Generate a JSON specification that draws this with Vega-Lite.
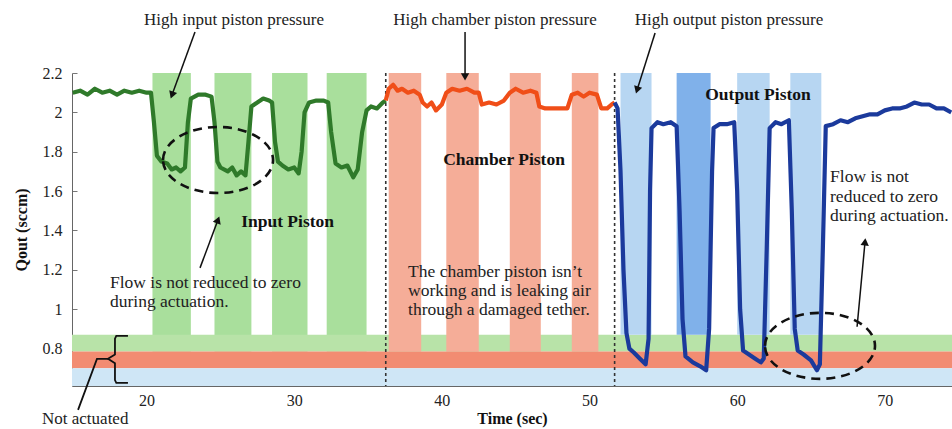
{
  "$schema": "https://vega.github.io/schema/vega-lite/v6.json",
  "width": 880,
  "height": 313,
  "autosize": {"type": "none"},
  "padding": {"left": 72, "top": 73, "right": 0, "bottom": 43},
  "background": "white",
  "config": {
    "view": {"stroke": null},
    "font": "Liberation Serif",
    "axis": {
      "grid": false,
      "domainColor": "#666666",
      "domainWidth": 1,
      "tickColor": "#777777",
      "tickSize": -5,
      "labelFont": "Liberation Serif",
      "labelFontSize": 16,
      "labelColor": "#222222",
      "titleFont": "Liberation Serif",
      "titleFontSize": 16,
      "titleFontWeight": "bold",
      "titleColor": "#111111"
    }
  },
  "datasets": {
    "series": [
      {"s": "input", "t": 15.0, "v": 2.10}, {"s": "input", "t": 15.5, "v": 2.11}, {"s": "input", "t": 16.0, "v": 2.09},
      {"s": "input", "t": 16.5, "v": 2.12}, {"s": "input", "t": 17.0, "v": 2.10}, {"s": "input", "t": 17.5, "v": 2.11},
      {"s": "input", "t": 18.0, "v": 2.09}, {"s": "input", "t": 18.5, "v": 2.11}, {"s": "input", "t": 19.0, "v": 2.10},
      {"s": "input", "t": 19.5, "v": 2.11}, {"s": "input", "t": 20.0, "v": 2.10}, {"s": "input", "t": 20.3, "v": 2.10},
      {"s": "input", "t": 20.5, "v": 1.95}, {"s": "input", "t": 20.7, "v": 1.78}, {"s": "input", "t": 21.0, "v": 1.75},
      {"s": "input", "t": 21.4, "v": 1.74}, {"s": "input", "t": 21.7, "v": 1.71}, {"s": "input", "t": 22.0, "v": 1.72},
      {"s": "input", "t": 22.3, "v": 1.70}, {"s": "input", "t": 22.6, "v": 1.72}, {"s": "input", "t": 22.8, "v": 1.95},
      {"s": "input", "t": 23.0, "v": 2.07}, {"s": "input", "t": 23.5, "v": 2.09}, {"s": "input", "t": 24.0, "v": 2.09},
      {"s": "input", "t": 24.4, "v": 2.08}, {"s": "input", "t": 24.6, "v": 1.95}, {"s": "input", "t": 24.8, "v": 1.75},
      {"s": "input", "t": 25.0, "v": 1.72}, {"s": "input", "t": 25.5, "v": 1.70}, {"s": "input", "t": 25.8, "v": 1.72},
      {"s": "input", "t": 26.1, "v": 1.68}, {"s": "input", "t": 26.4, "v": 1.70}, {"s": "input", "t": 26.7, "v": 1.68},
      {"s": "input", "t": 26.9, "v": 1.85}, {"s": "input", "t": 27.1, "v": 2.03}, {"s": "input", "t": 27.5, "v": 2.05},
      {"s": "input", "t": 27.9, "v": 2.07}, {"s": "input", "t": 28.3, "v": 2.06}, {"s": "input", "t": 28.5, "v": 2.05},
      {"s": "input", "t": 28.7, "v": 1.85}, {"s": "input", "t": 28.9, "v": 1.75}, {"s": "input", "t": 29.2, "v": 1.73},
      {"s": "input", "t": 29.6, "v": 1.71}, {"s": "input", "t": 30.0, "v": 1.72}, {"s": "input", "t": 30.3, "v": 1.69},
      {"s": "input", "t": 30.5, "v": 1.80}, {"s": "input", "t": 30.7, "v": 2.00}, {"s": "input", "t": 31.0, "v": 2.05},
      {"s": "input", "t": 31.5, "v": 2.06}, {"s": "input", "t": 32.0, "v": 2.06}, {"s": "input", "t": 32.3, "v": 2.05},
      {"s": "input", "t": 32.5, "v": 1.90}, {"s": "input", "t": 32.8, "v": 1.74}, {"s": "input", "t": 33.2, "v": 1.72},
      {"s": "input", "t": 33.6, "v": 1.73}, {"s": "input", "t": 34.0, "v": 1.67}, {"s": "input", "t": 34.3, "v": 1.71},
      {"s": "input", "t": 34.6, "v": 1.90}, {"s": "input", "t": 34.9, "v": 2.01}, {"s": "input", "t": 35.2, "v": 2.03},
      {"s": "input", "t": 35.6, "v": 2.02}, {"s": "input", "t": 36.0, "v": 2.05}, {"s": "input", "t": 36.2, "v": 2.06},
      {"s": "chamber", "t": 36.2, "v": 2.06}, {"s": "chamber", "t": 36.4, "v": 2.12}, {"s": "chamber", "t": 36.7, "v": 2.14},
      {"s": "chamber", "t": 37.0, "v": 2.11}, {"s": "chamber", "t": 37.3, "v": 2.12}, {"s": "chamber", "t": 37.7, "v": 2.10},
      {"s": "chamber", "t": 38.1, "v": 2.11}, {"s": "chamber", "t": 38.5, "v": 2.09}, {"s": "chamber", "t": 38.7, "v": 2.05},
      {"s": "chamber", "t": 39.0, "v": 2.03}, {"s": "chamber", "t": 39.3, "v": 2.05}, {"s": "chamber", "t": 39.6, "v": 2.01},
      {"s": "chamber", "t": 40.0, "v": 2.04}, {"s": "chamber", "t": 40.3, "v": 2.10}, {"s": "chamber", "t": 40.7, "v": 2.12},
      {"s": "chamber", "t": 41.2, "v": 2.11}, {"s": "chamber", "t": 41.7, "v": 2.12}, {"s": "chamber", "t": 42.2, "v": 2.10},
      {"s": "chamber", "t": 42.5, "v": 2.10}, {"s": "chamber", "t": 42.7, "v": 2.04}, {"s": "chamber", "t": 43.2, "v": 2.05},
      {"s": "chamber", "t": 43.7, "v": 2.04}, {"s": "chamber", "t": 44.2, "v": 2.06}, {"s": "chamber", "t": 44.6, "v": 2.10},
      {"s": "chamber", "t": 45.0, "v": 2.12}, {"s": "chamber", "t": 45.5, "v": 2.10}, {"s": "chamber", "t": 46.0, "v": 2.11},
      {"s": "chamber", "t": 46.4, "v": 2.10}, {"s": "chamber", "t": 46.6, "v": 2.03}, {"s": "chamber", "t": 47.0, "v": 2.02},
      {"s": "chamber", "t": 47.5, "v": 2.02}, {"s": "chamber", "t": 48.0, "v": 2.02}, {"s": "chamber", "t": 48.5, "v": 2.02},
      {"s": "chamber", "t": 48.8, "v": 2.09}, {"s": "chamber", "t": 49.2, "v": 2.10}, {"s": "chamber", "t": 49.6, "v": 2.08},
      {"s": "chamber", "t": 50.0, "v": 2.10}, {"s": "chamber", "t": 50.5, "v": 2.09}, {"s": "chamber", "t": 50.8, "v": 2.02},
      {"s": "chamber", "t": 51.2, "v": 2.02}, {"s": "chamber", "t": 51.5, "v": 2.04}, {"s": "chamber", "t": 51.7, "v": 2.05},
      {"s": "output", "t": 51.7, "v": 2.05}, {"s": "output", "t": 51.9, "v": 2.02}, {"s": "output", "t": 52.1, "v": 1.70},
      {"s": "output", "t": 52.3, "v": 1.20}, {"s": "output", "t": 52.5, "v": 0.88}, {"s": "output", "t": 52.7, "v": 0.80},
      {"s": "output", "t": 53.0, "v": 0.78}, {"s": "output", "t": 53.4, "v": 0.75}, {"s": "output", "t": 53.8, "v": 0.72},
      {"s": "output", "t": 54.0, "v": 0.85}, {"s": "output", "t": 54.1, "v": 1.60}, {"s": "output", "t": 54.2, "v": 1.92},
      {"s": "output", "t": 54.6, "v": 1.95}, {"s": "output", "t": 55.0, "v": 1.94}, {"s": "output", "t": 55.5, "v": 1.95},
      {"s": "output", "t": 55.9, "v": 1.93}, {"s": "output", "t": 56.1, "v": 1.50}, {"s": "output", "t": 56.3, "v": 0.95},
      {"s": "output", "t": 56.5, "v": 0.76}, {"s": "output", "t": 57.0, "v": 0.73}, {"s": "output", "t": 57.5, "v": 0.71},
      {"s": "output", "t": 57.9, "v": 0.69}, {"s": "output", "t": 58.1, "v": 0.90}, {"s": "output", "t": 58.3, "v": 1.70},
      {"s": "output", "t": 58.4, "v": 1.92}, {"s": "output", "t": 58.8, "v": 1.94}, {"s": "output", "t": 59.3, "v": 1.94},
      {"s": "output", "t": 59.8, "v": 1.95}, {"s": "output", "t": 60.0, "v": 1.60}, {"s": "output", "t": 60.2, "v": 1.00},
      {"s": "output", "t": 60.4, "v": 0.79}, {"s": "output", "t": 60.8, "v": 0.77}, {"s": "output", "t": 61.2, "v": 0.75},
      {"s": "output", "t": 61.6, "v": 0.73}, {"s": "output", "t": 61.8, "v": 0.75}, {"s": "output", "t": 62.0, "v": 1.30},
      {"s": "output", "t": 62.2, "v": 1.92}, {"s": "output", "t": 62.6, "v": 1.95}, {"s": "output", "t": 63.0, "v": 1.94},
      {"s": "output", "t": 63.5, "v": 1.96}, {"s": "output", "t": 63.7, "v": 1.50}, {"s": "output", "t": 63.9, "v": 0.90},
      {"s": "output", "t": 64.1, "v": 0.79}, {"s": "output", "t": 64.5, "v": 0.77}, {"s": "output", "t": 65.0, "v": 0.74},
      {"s": "output", "t": 65.4, "v": 0.69}, {"s": "output", "t": 65.6, "v": 0.72}, {"s": "output", "t": 65.8, "v": 1.30},
      {"s": "output", "t": 66.0, "v": 1.93}, {"s": "output", "t": 66.5, "v": 1.94}, {"s": "output", "t": 67.0, "v": 1.96},
      {"s": "output", "t": 67.5, "v": 1.95}, {"s": "output", "t": 68.0, "v": 1.97}, {"s": "output", "t": 68.5, "v": 1.98},
      {"s": "output", "t": 69.0, "v": 1.99}, {"s": "output", "t": 69.5, "v": 1.99}, {"s": "output", "t": 70.0, "v": 2.01},
      {"s": "output", "t": 70.5, "v": 2.02}, {"s": "output", "t": 71.0, "v": 2.02}, {"s": "output", "t": 71.5, "v": 2.03},
      {"s": "output", "t": 72.0, "v": 2.05}, {"s": "output", "t": 72.5, "v": 2.04}, {"s": "output", "t": 73.0, "v": 2.04},
      {"s": "output", "t": 73.5, "v": 2.02}, {"s": "output", "t": 74.0, "v": 2.02}, {"s": "output", "t": 74.5, "v": 2.00}
    ],
    "vbands": [
      {"k": "vin", "t1": 20.4, "t2": 23.0}, {"k": "vin", "t1": 24.6, "t2": 27.1},
      {"k": "vin", "t1": 28.5, "t2": 30.9}, {"k": "vin", "t1": 32.2, "t2": 34.9},
      {"k": "vch", "t1": 36.4, "t2": 38.6}, {"k": "vch", "t1": 40.3, "t2": 42.5},
      {"k": "vch", "t1": 44.6, "t2": 46.7}, {"k": "vch", "t1": 48.8, "t2": 50.6},
      {"k": "vout", "t1": 52.1, "t2": 54.2}, {"k": "vout2", "t1": 55.9, "t2": 58.2},
      {"k": "vout", "t1": 60.0, "t2": 62.2}, {"k": "vout", "t1": 63.6, "t2": 65.7}
    ],
    "hbands": [
      {"k": "hgreen", "v1": 0.785, "v2": 0.87},
      {"k": "hred", "v1": 0.70, "v2": 0.785},
      {"k": "hblue", "v1": 0.61, "v2": 0.70}
    ],
    "dividers": [{"t": 36.2}, {"t": 51.7}],
    "ellipses": [{"t": 24.84, "v": 1.758}, {"t": 65.61, "v": 0.814}],
    "arrows": [
      {"t1": 23.28, "v1": 2.408, "t2": 21.72, "v2": 2.088, "ang": 200},
      {"t1": 41.57, "v1": 2.408, "t2": 41.57, "v2": 2.18, "ang": 180},
      {"t1": 54.44, "v1": 2.403, "t2": 53.22, "v2": 2.114, "ang": 197.5},
      {"t1": 23.62, "v1": 1.21, "t2": 24.84, "v2": 1.454, "ang": 20.6},
      {"t1": 68.12, "v1": 0.911, "t2": 68.66, "v2": 1.342, "ang": 5.4}
    ],
    "brace": [
      {"p": "brace", "i": 1, "t": 18.74, "v": 0.865}, {"p": "brace", "i": 2, "t": 17.95, "v": 0.865},
      {"p": "brace", "i": 3, "t": 17.86, "v": 0.85}, {"p": "brace", "i": 4, "t": 17.86, "v": 0.77},
      {"p": "brace", "i": 5, "t": 17.39, "v": 0.748}, {"p": "brace", "i": 6, "t": 17.86, "v": 0.726},
      {"p": "brace", "i": 7, "t": 17.86, "v": 0.64}, {"p": "brace", "i": 8, "t": 17.95, "v": 0.626},
      {"p": "brace", "i": 9, "t": 18.74, "v": 0.626},
      {"p": "leader", "i": 1, "t": 15.36, "v": 0.489}, {"p": "leader", "i": 2, "t": 16.64, "v": 0.748},
      {"p": "leader", "i": 3, "t": 17.39, "v": 0.748}
    ],
    "texts": [
      {"r": "header", "t": 25.92, "v": 2.469, "label": "High input piston pressure"},
      {"r": "header", "t": 43.60, "v": 2.469, "label": "High chamber piston pressure"},
      {"r": "header", "t": 59.45, "v": 2.469, "label": "High output piston pressure"},
      {"r": "piston", "t": 61.41, "v": 2.088, "label": "Output Piston"},
      {"r": "piston", "t": 44.21, "v": 1.758, "label": "Chamber Piston"},
      {"r": "piston", "t": 29.55, "v": 1.444, "label": "Input Piston"},
      {"r": "note", "t": 17.52, "v": 1.134, "label": "Flow is not reduced to zero"},
      {"r": "note", "t": 17.52, "v": 1.038, "label": "during actuation."},
      {"r": "note", "t": 37.71, "v": 1.190, "label": "The chamber piston isn’t"},
      {"r": "note", "t": 37.71, "v": 1.093, "label": "working and is leaking air"},
      {"r": "note", "t": 37.71, "v": 0.997, "label": "through a damaged tether."},
      {"r": "note", "t": 66.29, "v": 1.672, "label": "Flow is not"},
      {"r": "note", "t": 66.29, "v": 1.571, "label": "reduced to zero"},
      {"r": "note", "t": 66.29, "v": 1.474, "label": "during actuation."},
      {"r": "foot", "t": 12.92, "v": 0.44, "label": "Not actuated"}
    ]
  },
  "layer": [
    {
      "data": {"name": "vbands"},
      "transform": [{"filter": "datum.k === 'vin'"}],
      "mark": {"type": "rect"},
      "encoding": {
        "x": {"field": "t1", "type": "quantitative", "scale": {"domain": [14.95, 74.55], "nice": false, "zero": false},
              "axis": {"values": [20, 30, 40, 50, 60, 70], "title": "Time (sec)", "labelPadding": 11, "titlePadding": 2}},
        "x2": {"field": "t2"},
        "y": {"datum": 0.785, "type": "quantitative", "scale": {"domain": [0.61, 2.2], "nice": false, "zero": false},
              "axis": {"values": [0.8, 1, 1.2, 1.4, 1.6, 1.8, 2, 2.2], "format": "~g", "title": "Qout (sccm)", "labelPadding": 15, "titlePadding": 13}},
        "y2": {"datum": 2.2},
        "color": {"field": "k", "type": "nominal", "legend": null,
                  "scale": {"domain": ["input", "chamber", "output", "vin", "vch", "vout", "vout2", "hgreen", "hred", "hblue"],
                            "range": ["#2f7a2a", "#f04e18", "#1b3a9c", "#a9df9c", "#f5ad98", "#b7d6f2", "#80b1ea", "#b8e3a8", "#f28c72", "#cfe6f6"]}}
      }
    },
    {
      "data": {"name": "hbands"},
      "transform": [{"filter": "datum.k === 'hgreen'"}],
      "mark": {"type": "rect"},
      "encoding": {
        "y": {"field": "v1", "type": "quantitative", "scale": {"domain": [0.61, 2.2], "nice": false, "zero": false}},
        "y2": {"field": "v2"},
        "color": {"field": "k", "type": "nominal", "legend": null}
      }
    },
    {
      "data": {"name": "vbands"},
      "transform": [{"filter": "datum.k === 'vch'"}],
      "mark": {"type": "rect"},
      "encoding": {
        "x": {"field": "t1", "type": "quantitative", "scale": {"domain": [14.95, 74.55], "nice": false, "zero": false}},
        "x2": {"field": "t2"},
        "y": {"datum": 0.785, "type": "quantitative", "scale": {"domain": [0.61, 2.2], "nice": false, "zero": false}},
        "y2": {"datum": 2.2},
        "color": {"field": "k", "type": "nominal", "legend": null}
      }
    },
    {
      "data": {"name": "vbands"},
      "transform": [{"filter": "datum.k === 'vout' || datum.k === 'vout2'"}],
      "mark": {"type": "rect"},
      "encoding": {
        "x": {"field": "t1", "type": "quantitative", "scale": {"domain": [14.95, 74.55], "nice": false, "zero": false}},
        "x2": {"field": "t2"},
        "y": {"datum": 0.87, "type": "quantitative", "scale": {"domain": [0.61, 2.2], "nice": false, "zero": false}},
        "y2": {"datum": 2.2},
        "color": {"field": "k", "type": "nominal", "legend": null}
      }
    },
    {
      "data": {"name": "hbands"},
      "transform": [{"filter": "datum.k !== 'hgreen'"}],
      "mark": {"type": "rect"},
      "encoding": {
        "y": {"field": "v1", "type": "quantitative", "scale": {"domain": [0.61, 2.2], "nice": false, "zero": false}},
        "y2": {"field": "v2"},
        "color": {"field": "k", "type": "nominal", "legend": null}
      }
    },
    {
      "data": {"name": "dividers"},
      "mark": {"type": "rule", "color": "#333333", "strokeWidth": 1.6, "strokeDash": [3, 3]},
      "encoding": {
        "x": {"field": "t", "type": "quantitative", "scale": {"domain": [14.95, 74.55], "nice": false, "zero": false}}
      }
    },
    {
      "mark": {"type": "rule", "color": "#666666", "strokeWidth": 1},
      "encoding": {
        "y": {"datum": 2.2, "type": "quantitative", "scale": {"domain": [0.61, 2.2], "nice": false, "zero": false}}
      }
    },
    {
      "data": {"name": "series"},
      "mark": {"type": "line", "strokeWidth": 4.2, "strokeJoin": "round"},
      "encoding": {
        "x": {"field": "t", "type": "quantitative", "scale": {"domain": [14.95, 74.55], "nice": false, "zero": false}},
        "y": {"field": "v", "type": "quantitative", "scale": {"domain": [0.61, 2.2], "nice": false, "zero": false}},
        "color": {"field": "s", "type": "nominal", "legend": null}
      }
    },
    {
      "data": {"name": "ellipses"},
      "mark": {"type": "point", "shape": "M -1 0 A 1 0.6 0 1 1 1 0 A 1 0.6 0 1 1 -1 0 Z", "size": 12100,
               "filled": false, "stroke": "#111111", "strokeWidth": 2.6, "strokeDash": [9, 6], "opacity": 1},
      "encoding": {
        "x": {"field": "t", "type": "quantitative", "scale": {"domain": [14.95, 74.55], "nice": false, "zero": false}},
        "y": {"field": "v", "type": "quantitative", "scale": {"domain": [0.61, 2.2], "nice": false, "zero": false}}
      }
    },
    {
      "data": {"name": "arrows"},
      "mark": {"type": "rule", "color": "#111111", "strokeWidth": 1.5},
      "encoding": {
        "x": {"field": "t1", "type": "quantitative", "scale": {"domain": [14.95, 74.55], "nice": false, "zero": false}},
        "y": {"field": "v1", "type": "quantitative", "scale": {"domain": [0.61, 2.2], "nice": false, "zero": false}},
        "x2": {"field": "t2"},
        "y2": {"field": "v2"}
      }
    },
    {
      "data": {"name": "arrows"},
      "mark": {"type": "point", "shape": "triangle-up", "filled": true, "color": "#111111", "size": 70, "opacity": 1},
      "encoding": {
        "x": {"field": "t2", "type": "quantitative", "scale": {"domain": [14.95, 74.55], "nice": false, "zero": false}},
        "y": {"field": "v2", "type": "quantitative", "scale": {"domain": [0.61, 2.2], "nice": false, "zero": false}},
        "angle": {"field": "ang", "type": "quantitative", "scale": null}
      }
    },
    {
      "data": {"name": "brace"},
      "mark": {"type": "line", "color": "#111111", "strokeWidth": 1.8},
      "encoding": {
        "x": {"field": "t", "type": "quantitative", "scale": {"domain": [14.95, 74.55], "nice": false, "zero": false}},
        "y": {"field": "v", "type": "quantitative", "scale": {"domain": [0.61, 2.2], "nice": false, "zero": false}},
        "detail": {"field": "p", "type": "nominal"},
        "order": {"field": "i", "type": "quantitative"}
      }
    },
    {
      "data": {"name": "texts"},
      "transform": [{"filter": "datum.r === 'header'"}],
      "mark": {"type": "text", "font": "Liberation Serif", "fontSize": 17, "align": "center", "baseline": "middle", "color": "#222222"},
      "encoding": {
        "x": {"field": "t", "type": "quantitative", "scale": {"domain": [14.95, 74.55], "nice": false, "zero": false}},
        "y": {"field": "v", "type": "quantitative", "scale": {"domain": [0.61, 2.2], "nice": false, "zero": false}},
        "text": {"field": "label"}
      }
    },
    {
      "data": {"name": "texts"},
      "transform": [{"filter": "datum.r === 'piston'"}],
      "mark": {"type": "text", "font": "Liberation Serif", "fontSize": 17.5, "fontWeight": "bold", "align": "center", "baseline": "middle", "color": "#111111"},
      "encoding": {
        "x": {"field": "t", "type": "quantitative", "scale": {"domain": [14.95, 74.55], "nice": false, "zero": false}},
        "y": {"field": "v", "type": "quantitative", "scale": {"domain": [0.61, 2.2], "nice": false, "zero": false}},
        "text": {"field": "label"}
      }
    },
    {
      "data": {"name": "texts"},
      "transform": [{"filter": "datum.r === 'note'"}],
      "mark": {"type": "text", "font": "Liberation Serif", "fontSize": 17.5, "align": "left", "baseline": "middle", "color": "#222222"},
      "encoding": {
        "x": {"field": "t", "type": "quantitative", "scale": {"domain": [14.95, 74.55], "nice": false, "zero": false}},
        "y": {"field": "v", "type": "quantitative", "scale": {"domain": [0.61, 2.2], "nice": false, "zero": false}},
        "text": {"field": "label"}
      }
    },
    {
      "data": {"name": "texts"},
      "transform": [{"filter": "datum.r === 'foot'"}],
      "mark": {"type": "text", "font": "Liberation Serif", "fontSize": 17, "align": "left", "baseline": "middle", "color": "#222222"},
      "encoding": {
        "x": {"field": "t", "type": "quantitative", "scale": {"domain": [14.95, 74.55], "nice": false, "zero": false}},
        "y": {"field": "v", "type": "quantitative", "scale": {"domain": [0.61, 2.2], "nice": false, "zero": false}},
        "text": {"field": "label"}
      }
    }
  ]
}
